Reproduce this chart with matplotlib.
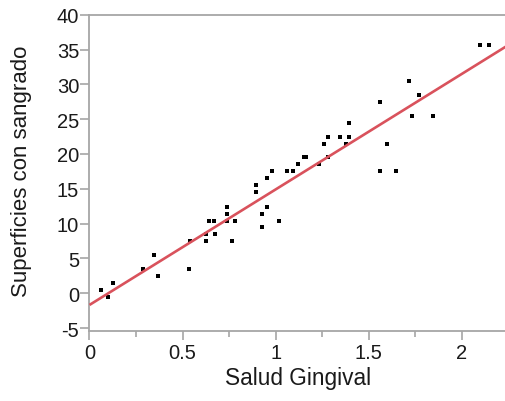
import numpy as np
import matplotlib
matplotlib.use("Agg")
import matplotlib.pyplot as plt
from matplotlib.ticker import MultipleLocator

salud_gingival = [0.063, 0.099, 0.126, 0.285, 0.344, 0.370, 0.532, 0.540, 0.625, 0.625,
                  0.643, 0.670, 0.673, 0.738, 0.738, 0.738, 0.765, 0.784, 0.893, 0.897,
                  0.926, 0.926, 0.953, 0.956, 0.983, 1.019, 1.063, 1.096, 1.122, 1.152,
                  1.165, 1.235, 1.284, 1.262, 1.284, 1.346, 1.396, 1.396, 1.378, 1.561,
                  1.597, 1.561, 2.098, 2.145, 1.715, 1.771, 1.731, 1.844, 1.647]
superficies = [0.45, -0.55, 1.5, 3.45, 5.45, 2.45, 3.45, 7.45, 7.45, 8.5,
               10.45, 10.45, 8.5, 10.45, 11.45, 12.45, 7.45, 10.45, 15.5, 14.5,
               11.45, 9.45, 16.5, 12.45, 17.5, 10.45, 17.5, 17.5, 18.5, 19.5,
               19.5, 18.5, 19.5, 21.5, 22.5, 22.5, 22.5, 24.5, 21.5, 27.5,
               21.5, 17.5, 35.6, 35.6, 30.5, 28.5, 25.5, 25.5, 17.5]

x_ticks = [0, 0.5, 1, 1.5, 2]
x_tick_labels = ["0", "0.5", "1", "1.5", "2"]
y_ticks = [-5, 0, 5, 10, 15, 20, 25, 30, 35, 40]
y_tick_labels = [str(v) for v in y_ticks]

plt.rcParams['font.family'] = ['Liberation Sans', 'DejaVu Sans']

fig = plt.figure(figsize=(5.06, 4.02), dpi=100)
ax = fig.add_axes([89.5/506, 1-331.7/402, 1-89.5/506, (331.7-15.7)/402])

xs = np.array(salud_gingival)
ys = np.array(superficies)
slope, intercept = np.polyfit(xs, ys, 1)

xmin, xmax = 0, 2.238
ymin, ymax = -5.37, 40

ax.scatter(xs, ys, marker='s', s=9, color='black', linewidths=0, zorder=2)
lx = np.array([xmin, xmax])
ax.plot(lx, slope*lx + intercept, color='#d9525c', lw=1.9, zorder=3, solid_capstyle='butt')

ax.set_xlim(xmin, xmax)
ax.set_ylim(ymin, ymax)
ax.set_xticks(x_ticks)
ax.set_xticklabels(x_tick_labels)
ax.xaxis.set_minor_locator(MultipleLocator(0.25))
ax.set_yticks(y_ticks)
ax.set_yticklabels(y_tick_labels)

spine_c = '#a6a6a6'
for s in ['left', 'top', 'bottom']:
    ax.spines[s].set_color(spine_c)
    ax.spines[s].set_linewidth(1.3)
ax.spines['right'].set_visible(False)

ax.tick_params(axis='both', which='major', direction='out', length=6.5, width=1.2,
               color=spine_c, labelsize=14.5, labelcolor='#1a1a1a')
ax.tick_params(axis='y', which='major', pad=1)
ax.tick_params(axis='x', which='major', pad=2)
ax.tick_params(axis='x', which='minor', direction='out', length=4, width=1.2, color=spine_c)

ax.set_xlabel('Salud Gingival', fontsize=16.3, color='#1a1a1a', labelpad=3)
ax.set_ylabel('Superficies con sangrado', fontsize=16, color='#1a1a1a')
ax.yaxis.set_label_coords(-0.138, 0.507)

fig.savefig('out.png', dpi=100)
